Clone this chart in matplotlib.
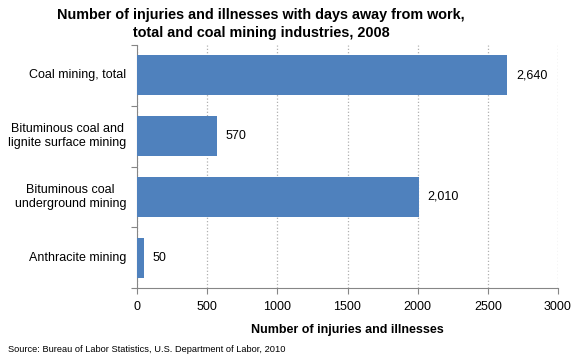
import matplotlib.pyplot as plt

plt.rcParams['font.family'] = ['Liberation Sans', 'DejaVu Sans']

categories = ["Coal mining, total",
              "Bituminous coal and\nlignite surface mining",
              "Bituminous coal\nunderground mining",
              "Anthracite mining"]
values = [2640, 570, 2010, 50]
value_labels = ["2,640", "570", "2,010", "50"]
xticks = [0, 500, 1000, 1500, 2000, 2500, 3000]

fig = plt.figure(figsize=(5.8, 3.6), dpi=100)
ax = fig.add_axes([137 / 580, 1 - 288 / 360, (558 - 137) / 580, (288 - 45) / 360])

pos = list(range(len(categories)))
ax.barh(pos, values, height=0.66, color="#4F81BD", zorder=3)
ax.set_ylim(len(categories) - 0.5, -0.5)
ax.set_xlim(0, 3000)
ax.set_xticks(xticks)
ax.set_xticklabels([str(t) for t in xticks], fontsize=9)

# category labels, ticks at boundaries
ax.set_yticks([p - 0.5 for p in pos] + [len(pos) - 0.5])
ax.set_yticklabels([])
ax.tick_params(axis="y", length=4, color="#868686")
ax.tick_params(axis="x", length=4, color="#868686", pad=5)
for p, c in zip(pos, categories):
    ax.text(-0.025, p, c, transform=ax.get_yaxis_transform(), ha="right",
            va="center", fontsize=9, multialignment="center")

for p, v, lab in zip(pos, values, value_labels):
    ax.text(v + 60, p, lab, va="center", ha="left", fontsize=9)

ax.grid(axis="x", linestyle=":", color="#B0B0B0", linewidth=0.9, zorder=0)
for s in ["top", "right"]:
    ax.spines[s].set_visible(False)
for s in ["left", "bottom"]:
    ax.spines[s].set_color("#868686")

ax.set_xlabel("Number of injuries and illnesses", fontsize=9, fontweight="bold", labelpad=8)

fig.text(261 / 580, 1 - 24 / 360,
         "Number of injuries and illnesses with days away from work,\ntotal and coal mining industries, 2008",
         ha="center", va="center", fontsize=10.4, fontweight="bold", linespacing=1.3)
fig.text(8 / 580, 1 - 350 / 360,
         "Source: Bureau of Labor Statistics, U.S. Department of Labor, 2010",
         ha="left", va="center", fontsize=6.65)

fig.savefig("out.png", dpi=100)
